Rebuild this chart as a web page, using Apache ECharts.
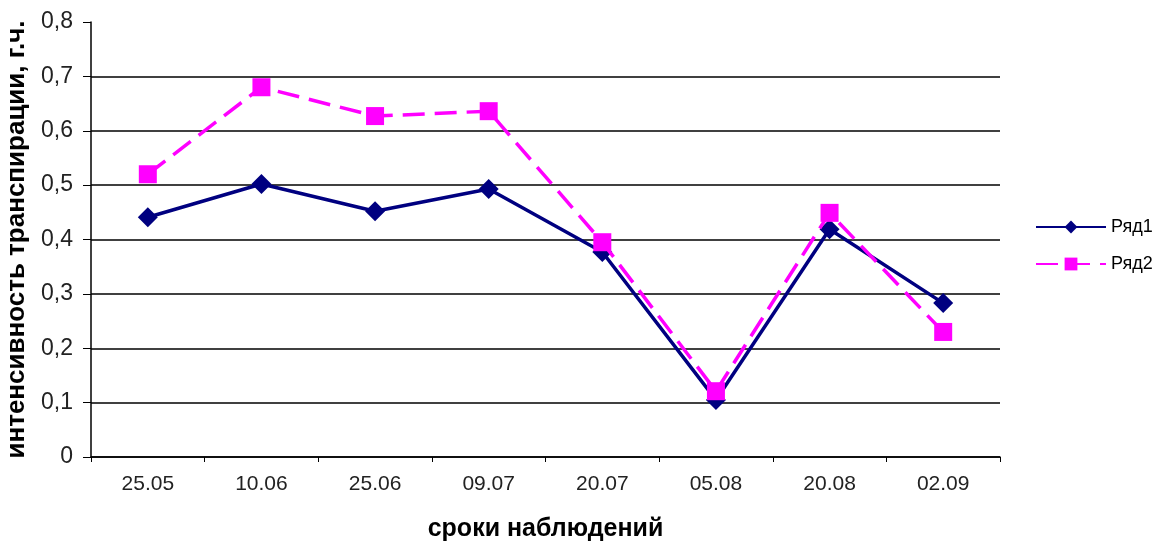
<!DOCTYPE html>
<html>
<head>
<meta charset="utf-8">
<script src="https://cdn.jsdelivr.net/npm/echarts@6/dist/echarts.min.js"></script>
<style>
  html, body { margin: 0; padding: 0; background: #fff; }
  #chart { width: 1158px; height: 542px; }
</style>
</head>
<body>
<div id="chart"></div>
<script>
// Observation dates
const categories = ['25.05', '10.06', '25.06', '09.07', '20.07', '05.08', '20.08', '02.09'];
// Transpiration intensity, series 1 and 2
const series1 = [0.441, 0.502, 0.452, 0.493, 0.377, 0.105, 0.419, 0.283];
const series2 = [0.520, 0.680, 0.627, 0.636, 0.395, 0.121, 0.449, 0.230];
const seriesNames = ['Ряд1', 'Ряд2'];
const yTicks = [0, 0.1, 0.2, 0.3, 0.4, 0.5, 0.6, 0.7, 0.8];

const font = '"Liberation Sans", Arial, sans-serif';
const chart = echarts.init(document.getElementById('chart'), null, { renderer: 'canvas' });

chart.setOption({
  animation: false,
  backgroundColor: '#ffffff',
  grid: {
    left: 91, right: 158, top: 22, bottom: 85,
    containLabel: false,
    outerBoundsMode: 'none'
  },
  legend: {
    left: 1030, top: 213, orient: 'vertical',
    itemWidth: 70, itemHeight: 16, itemGap: 19,
    textStyle: { fontFamily: font, fontSize: 18, color: '#000' },
    data: seriesNames
  },
  xAxis: {
    type: 'category',
    data: categories,
    boundaryGap: true,
    name: 'сроки наблюдений',
    nameLocation: 'middle',
    nameGap: 60,
    nameTextStyle: { fontFamily: font, fontSize: 25, fontWeight: 'bold', color: '#000' },
    axisLine: { lineStyle: { color: '#000', width: 1.5 } },
    axisTick: { show: true, length: 5, lineStyle: { color: '#000' } },
    axisLabel: { fontFamily: font, fontSize: 21, color: '#222', margin: 17 },
    splitLine: { show: false }
  },
  yAxis: {
    type: 'value',
    min: yTicks[0], max: yTicks[yTicks.length - 1], interval: 0.1,
    name: 'интенсивность транспирации, г.ч.',
    nameLocation: 'middle',
    nameGap: 47,
    nameTextStyle: { fontFamily: font, fontSize: 26, fontWeight: 'bold', color: '#000' },
    axisLine: { show: true, lineStyle: { color: '#000', width: 1.5 } },
    axisTick: { show: true, length: 8, inside: false, lineStyle: { color: '#000' } },
    axisLabel: {
      fontFamily: font, fontSize: 23, color: '#222', margin: 18,
      formatter: v => String(Math.round(v * 10) / 10).replace('.', ',')
    },
    splitLine: {
      show: true,
      lineStyle: { color: '#000', width: 1.5 },
      showMaxLine: false
    }
  },
  series: [
    {
      name: seriesNames[0],
      type: 'line',
      data: series1,
      symbol: 'diamond',
      symbolSize: 20,
      color: '#000080',
      lineStyle: { color: '#000080', width: 3.5 },
      itemStyle: { color: '#000080' },
      z: 2
    },
    {
      name: seriesNames[1],
      type: 'line',
      data: series2,
      symbol: 'rect',
      symbolSize: 18,
      color: '#ff00ff',
      lineStyle: { color: '#ff00ff', width: 3.5, type: [22, 10] },
      itemStyle: { color: '#ff00ff' },
      z: 3
    }
  ]
});
</script>
</body>
</html>
